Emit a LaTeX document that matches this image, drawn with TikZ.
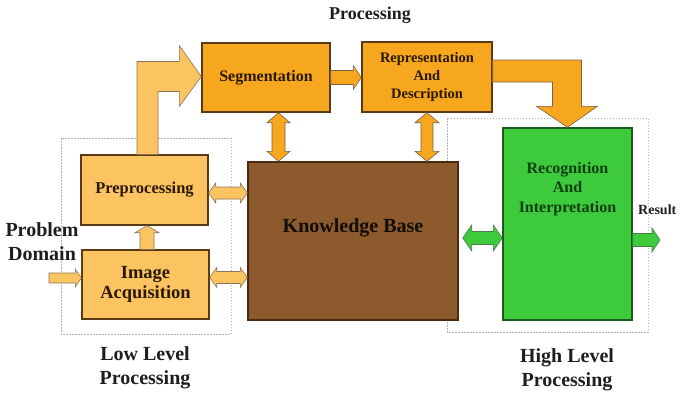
\documentclass[tikz,border=0pt]{standalone}
\usepackage{fontspec}
\setmainfont{Liberation Serif}
\usetikzlibrary{calc}
\definecolor{orangebox}{HTML}{F7A71E}
\definecolor{lightbox}{HTML}{FCC460}
\definecolor{boxline}{HTML}{5A3A14}
\definecolor{kbfill}{HTML}{8C5A2D}
\definecolor{kbline}{HTML}{4A2A10}
\definecolor{greenbox}{HTML}{3DCB3D}
\definecolor{greenline}{HTML}{1E5A1E}
\definecolor{greentext}{HTML}{0E3E0E}
\definecolor{darktext}{HTML}{2A1800}
\definecolor{labeltext}{HTML}{1E1E1E}

% horizontal double-headed block arrow: [style]{from}{to}{shaft half}{head half}{head length}
\newcommand\hdarrow[6][]{\draw[#1] let \p1=(#2), \p2=(#3) in
  (\x1,\y1) -- (\x1+#6,\y1+#5) -- (\x1+#6,\y1+#4) -- (\x2-#6,\y1+#4) -- (\x2-#6,\y1+#5)
  -- (\x2,\y1) -- (\x2-#6,\y1-#5) -- (\x2-#6,\y1-#4) -- (\x1+#6,\y1-#4) -- (\x1+#6,\y1-#5) -- cycle;}
% vertical double-headed block arrow, top point first
\newcommand\vdarrow[6][]{\draw[#1] let \p1=(#2), \p2=(#3) in
  (\x1,\y1) -- (\x1+#5,\y1-#6) -- (\x1+#4,\y1-#6) -- (\x1+#4,\y2+#6) -- (\x1+#5,\y2+#6)
  -- (\x1,\y2) -- (\x1-#5,\y2+#6) -- (\x1-#4,\y2+#6) -- (\x1-#4,\y1-#6) -- (\x1-#5,\y1-#6) -- cycle;}
% horizontal single-headed block arrow, pointing to the second point
\newcommand\harrow[6][]{\draw[#1] let \p1=(#2), \p2=(#3) in
  (\x1,\y1+#4) -- (\x2-#6,\y1+#4) -- (\x2-#6,\y1+#5) -- (\x2,\y1) -- (\x2-#6,\y1-#5)
  -- (\x2-#6,\y1-#4) -- (\x1,\y1-#4) -- cycle;}
% vertical single-headed block arrow, pointing up to the second point
\newcommand\uparrowblock[6][]{\draw[#1] let \p1=(#2), \p2=(#3) in
  (\x1-#4,\y1) -- (\x1-#4,\y2-#6) -- (\x1-#5,\y2-#6) -- (\x1,\y2) -- (\x1+#5,\y2-#6)
  -- (\x1+#4,\y2-#6) -- (\x1+#4,\y1) -- cycle;}

\tikzset{
  stagebox/.style={draw=boxline, line width=1.4pt, fill=orangebox, inner sep=0pt,
    text=darktext, font=\bfseries, align=center},
  lowbox/.style={draw=boxline, line width=1.4pt, fill=lightbox, inner sep=0pt,
    text=darktext, font=\bfseries, align=center},
  groupbox/.style={draw=gray!60, line width=0.8pt, dash pattern=on 1.5pt off 1.5pt},
  lightflow/.style={fill=lightbox, draw=boxline!70, line width=0.6pt},
  orangeflow/.style={fill=orangebox, draw=boxline!80, line width=0.6pt},
  greenflow/.style={fill=greenbox, draw=greenline!80, line width=0.6pt},
  caption/.style={text=labeltext, font=\bfseries, align=center}
}

\begin{document}
\begin{tikzpicture}[x=1pt, y=-1pt]
\useasboundingbox (0,0) rectangle (681,394);

% grouping frames
\draw[groupbox] (61,138) rectangle (231,334);
\draw[groupbox] (447,118) rectangle (648,332);

% processing stages
\node[stagebox, minimum width=128pt, minimum height=69pt, font=\bfseries\fontsize{16}{18}\selectfont]
  (seg) at (266,77.5) {Segmentation};
\node[stagebox, minimum width=130pt, minimum height=70pt, font=\bfseries\fontsize{14.5}{18}\selectfont]
  (rep) at (427,77) {Representation\\And\\Description};
\node[lowbox, minimum width=127pt, minimum height=70pt, font=\bfseries\fontsize{16.5}{18}\selectfont]
  (pre) at (144.5,190) {Preprocessing};
\node[lowbox, minimum width=127pt, minimum height=69pt, font=\bfseries\fontsize{18.5}{20}\selectfont]
  (acq) at (145.5,284.5) {Image\\Acquisition};
\node[draw=kbline, line width=1.4pt, fill=kbfill, inner sep=0pt, minimum width=210pt,
  minimum height=158pt] (kb) at (353,241) {};
\node[text=black!90!brown, font=\bfseries\fontsize{20}{22}\selectfont] (kbtext) at (353,228) {Knowledge Base};
\node[draw=greenline, line width=1.4pt, fill=greenbox, inner sep=0pt, minimum width=129pt,
  minimum height=192pt] (rec) at (567.5,224) {};
\node[text=greentext, font=\bfseries\fontsize{16}{19.5}\selectfont, align=center]
  (rectext) at (567.5,189) {Recognition\\And\\Interpretation};

% anchor points for the block arrows
\coordinate (segkb) at ($(seg.south)+(12.5,0)$);
\coordinate (prekb) at ($(pre.east)+(0,3)$);
\coordinate (acqkb) at ($(acq.east)+(0,-7)$);
\coordinate (acqpre) at ($(acq.north)+(1.5,0)$);
\coordinate (kbrec) at ($(kb.east)+(4,-3)$);
\coordinate (probin) at (49,278);
\coordinate (resout) at (660,240);

% flow arrows
\draw[lightflow] let \p1=(pre.north), \p2=(seg.west) in
  (\x1-7.5pt,\y1) -- (\x1-7.5pt,\y2+16pt) -- (\x2-22pt,\y2+16pt) -- (\x2-22pt,\y2+32pt)
  -- (\x2,\y2+1pt) -- (\x2-22pt,\y2-29pt) -- (\x2-22pt,\y2-14pt) -- (\x1+13.5pt,\y2-14pt)
  -- (\x1+13.5pt,\y1) -- cycle;
\draw[orangeflow] let \p1=(rep.east), \p2=(rec.north) in
  (\x1,\y1+17pt) -- (\x2+14pt,\y1+17pt) -- (\x2+14pt,\y2+21pt) -- (\x2+30pt,\y2+21pt)
  -- (\x2,\y2) -- (\x2-31pt,\y2+21pt) -- (\x2-15pt,\y2+21pt) -- (\x2-15pt,\y1-5pt)
  -- (\x1,\y1-5pt) -- cycle;
\harrow[orangeflow]{seg.east}{rep.west |- seg.east}{7pt}{12pt}{8pt}
\vdarrow[orangeflow]{segkb}{segkb |- kb.north}{6.5pt}{11.5pt}{10pt}
\vdarrow[orangeflow]{rep.south}{rep.south |- kb.north}{6pt}{12pt}{10pt}
\hdarrow[lightflow]{prekb}{prekb -| kb.west}{6pt}{10pt}{7pt}
\hdarrow[lightflow]{acqkb}{acqkb -| kb.west}{6pt}{10pt}{7pt}
\uparrowblock[lightflow]{acqpre}{acqpre |- pre.south}{7pt}{12pt}{7pt}
\harrow[lightflow]{probin}{probin -| acq.west}{5pt}{9pt}{6pt}
\hdarrow[greenflow]{kbrec}{kbrec -| rec.west}{6.5pt}{13pt}{9pt}
\harrow[greenflow]{resout -| rec.east}{resout}{6.5pt}{12pt}{8pt}

% captions
\node[caption, font=\bfseries\fontsize{18}{20}\selectfont] (toplabel) at (370,15) {Processing};
\node[caption, font=\bfseries\fontsize{20}{24}\selectfont] (problem) at (42,242) {Problem\\Domain};
\node[caption, font=\bfseries\fontsize{20}{24}\selectfont] (lowlabel) at (145,368) {Low Level\\Processing};
\node[caption, font=\bfseries\fontsize{20}{24}\selectfont] (highlabel) at (567,370) {High Level\\Processing};
\node[caption, anchor=west, inner sep=0pt, font=\bfseries\fontsize{14}{16}\selectfont] (result) at (638,210) {Result};
\end{tikzpicture}
\end{document}
